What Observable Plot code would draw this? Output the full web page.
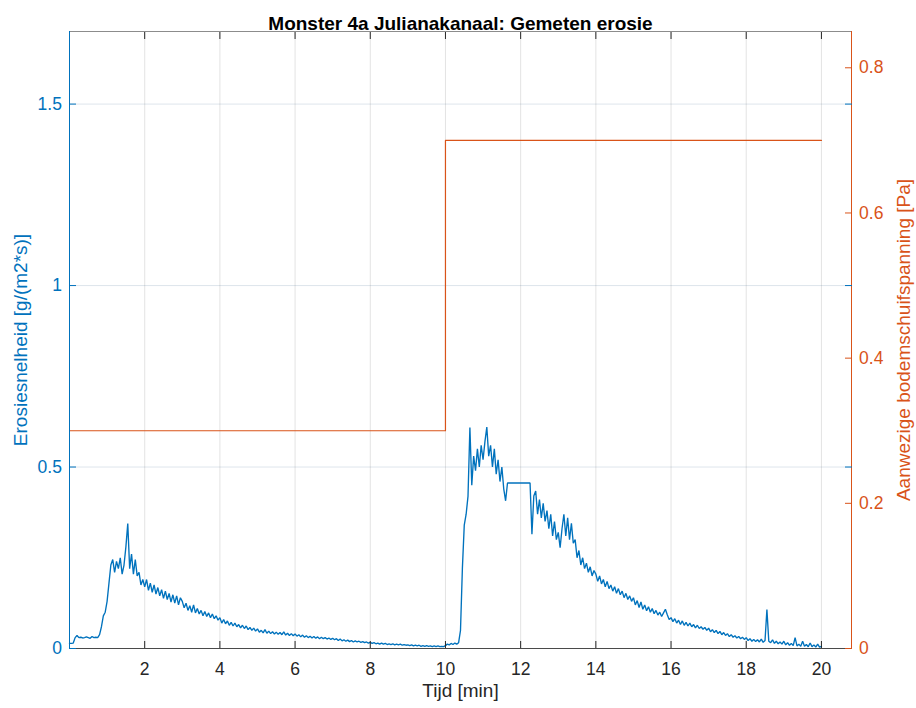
<!DOCTYPE html>
<html>
<head>
<meta charset="utf-8">
<script src="https://cdn.jsdelivr.net/npm/d3@7"></script>
<script src="https://cdn.jsdelivr.net/npm/@observablehq/plot@0.6"></script>
<style>
  body { margin: 0; background: #fff; }
</style>
</head>
<body>
<div id="chart"></div>
<script>
// ---------- Text ----------
const titel = "Monster 4a Julianakanaal: Gemeten erosie";
const xLabel = "Tijd [min]";
const yLabelLinks = "Erosiesnelheid [g/(m2*s)]";
const yLabelRechts = "Aanwezige bodemschuifspanning [Pa]";

// ---------- Axes ----------
const xTicks = [2, 4, 6, 8, 10, 12, 14, 16, 18, 20];
const yTicksLinks = [0, 0.5, 1, 1.5];
const yTicksRechts = [0, 0.2, 0.4, 0.6, 0.8];
const xBereik = [0, 20.8];
const yBereikLinks = [0, 1.7];
const yBereikRechts = [0, 0.85];

// ---------- Data ----------
// Erosiesnelheid [g/(m2*s)], gesampled elke 0.05 min vanaf t = 0 (één rij per minuut)
const meetInterval = 0.05;
const erosie = [
  0.014,0.014,0.015,0.03,0.036,0.03,0.031,0.029,0.03,0.032,0.03,0.028,0.033,0.03,0.031,0.03,0.038,0.06,0.09,0.1,
  0.13,0.18,0.23,0.245,0.21,0.24,0.22,0.25,0.205,0.23,0.28,0.344,0.22,0.26,0.205,0.245,0.2,0.21,0.175,0.19,
  0.17,0.19,0.16,0.18,0.155,0.175,0.15,0.168,0.145,0.162,0.138,0.158,0.135,0.152,0.128,0.148,0.125,0.145,0.12,0.14,
  0.13,0.112,0.125,0.105,0.118,0.1,0.12,0.098,0.11,0.095,0.105,0.09,0.102,0.088,0.098,0.085,0.095,0.082,0.09,0.078,
  0.085,0.07,0.08,0.068,0.076,0.064,0.072,0.062,0.07,0.06,0.066,0.057,0.064,0.055,0.062,0.052,0.058,0.05,0.056,0.048,
  0.054,0.045,0.05,0.043,0.052,0.042,0.048,0.041,0.046,0.04,0.045,0.039,0.044,0.038,0.046,0.037,0.042,0.036,0.041,0.035,
  0.04,0.034,0.038,0.032,0.037,0.031,0.035,0.03,0.034,0.029,0.033,0.028,0.032,0.027,0.031,0.027,0.03,0.026,0.029,0.025,
  0.028,0.024,0.027,0.022,0.026,0.021,0.024,0.02,0.023,0.019,0.022,0.018,0.021,0.018,0.02,0.017,0.019,0.016,0.018,0.015,
  0.017,0.014,0.016,0.013,0.015,0.012,0.015,0.012,0.014,0.011,0.013,0.011,0.013,0.01,0.012,0.01,0.012,0.009,0.011,0.009,
  0.01,0.008,0.01,0.007,0.009,0.007,0.009,0.006,0.008,0.006,0.008,0.006,0.007,0.005,0.007,0.005,0.007,0.005,0.006,0.005,
  0.008,0.012,0.01,0.014,0.011,0.015,0.012,0.016,0.05,0.22,0.34,0.37,0.42,0.609,0.45,0.53,0.49,0.55,0.5,0.56,
  0.52,0.57,0.61,0.53,0.56,0.5,0.55,0.48,0.52,0.46,0.5,0.44,0.407,0.456,0.456,0.456,0.456,0.456,0.456,0.456,
  0.456,0.456,0.456,0.456,0.456,0.456,0.315,0.42,0.434,0.37,0.41,0.36,0.4,0.35,0.38,0.33,0.37,0.31,0.35,0.3,
  0.32,0.278,0.33,0.37,0.31,0.36,0.3,0.345,0.29,0.3,0.25,0.27,0.23,0.25,0.22,0.235,0.21,0.225,0.2,0.215,
  0.205,0.185,0.2,0.178,0.19,0.17,0.185,0.165,0.175,0.158,0.17,0.152,0.165,0.148,0.158,0.14,0.152,0.135,0.145,0.13,
  0.14,0.12,0.132,0.113,0.128,0.108,0.12,0.104,0.115,0.1,0.11,0.096,0.105,0.092,0.1,0.088,0.098,0.108,0.093,0.08,
  0.085,0.074,0.082,0.07,0.078,0.066,0.076,0.064,0.072,0.062,0.07,0.06,0.066,0.057,0.064,0.055,0.06,0.053,0.058,0.05,
  0.056,0.046,0.052,0.044,0.05,0.041,0.047,0.038,0.044,0.036,0.041,0.033,0.038,0.031,0.035,0.029,0.033,0.027,0.031,0.025,
  0.03,0.022,0.027,0.02,0.025,0.019,0.024,0.018,0.026,0.017,0.022,0.107,0.02,0.016,0.024,0.014,0.02,0.013,0.018,0.012,
  0.02,0.01,0.016,0.009,0.014,0.008,0.03,0.007,0.012,0.006,0.02,0.006,0.011,0.005,0.015,0.005,0.01,0.004,0.012,0.004,
  0.006
];

// Aanwezige bodemschuifspanning [Pa] (trapfunctie)
const schuifTijd = [0, 10, 10, 20];
const schuifWaarde = [0.3, 0.3, 0.7, 0.7];

// ---------- Build tables ----------
const erosieData = erosie.map((v, i) => ({t: +(i * meetInterval).toFixed(2), v}));
const factor = yBereikLinks[1] / yBereikRechts[1];
const schuifData = schuifTijd.map((t, i) => ({t, v: schuifWaarde[i] * factor}));

const blauw = "#0072BD";
const oranje = "#D95319";
const tekst = "#262626";
const font = "'Liberation Sans', Arial, Helvetica, sans-serif";
const fmt = d => String(+d.toFixed(2));

const chart = Plot.plot({
  width: 916,
  height: 708,
  marginTop: 31,
  marginRight: 65,
  marginBottom: 60,
  marginLeft: 69,
  style: {fontFamily: font, background: "#fff", overflow: "visible"},
  x: {domain: xBereik, label: null},
  y: {domain: yBereikLinks, label: null},
  marks: [
    Plot.gridX(xTicks, {stroke: "#262626", strokeOpacity: 0.13}),
    Plot.gridY(yTicksLinks.filter(d => d > 0), {stroke: "#2f5f88", strokeOpacity: 0.16}),
    Plot.line(schuifData, {x: "t", y: "v", stroke: oranje, strokeWidth: 1.2}),
    Plot.line(erosieData, {x: "t", y: "v", stroke: blauw, strokeWidth: 1.35, strokeLinejoin: "miter"}),
    // box
    Plot.ruleY([yBereikLinks[1]], {stroke: "#8c8c8c"}),
    Plot.ruleY([yBereikLinks[0]], {stroke: "#4a4a4a"}),
    Plot.ruleX([xBereik[0]], {stroke: blauw}),
    Plot.ruleX([xBereik[1]], {stroke: oranje}),
    // inward ticks
    Plot.axisX({anchor: "bottom", ticks: xTicks, tickSize: -7, tickFormat: () => "", stroke: tekst, label: null}),
    Plot.axisX({anchor: "top", ticks: xTicks, tickSize: -7, tickFormat: () => "", stroke: tekst, label: null}),
    Plot.axisY({anchor: "left", ticks: yTicksLinks, tickSize: -7, tickFormat: () => "", stroke: blauw, label: null}),
    Plot.axisY({anchor: "right", ticks: yTicksLinks, tickSize: -7, tickFormat: () => "", stroke: blauw, label: null}),
    Plot.axisY({anchor: "right", ticks: yTicksRechts.map(d => d * factor), tickSize: -7, tickFormat: () => "", stroke: oranje, label: null}),
    // tick labels
    Plot.axisX({anchor: "bottom", ticks: xTicks, tickSize: 0, tickPadding: 14.5, fontSize: 17.5, color: tekst, label: null, tickFormat: fmt}),
    Plot.axisY({anchor: "left", ticks: yTicksLinks, tickSize: 0, tickPadding: 7.6, fontSize: 17.5, color: blauw, label: null, tickFormat: fmt}),
    Plot.axisY({anchor: "right", ticks: yTicksRechts.map(d => d * factor), tickSize: 0, tickPadding: 7.6, fontSize: 17.5, color: oranje, label: null,
      tickFormat: d => fmt(d / factor)}),
    // titles
    Plot.text([titel], {frameAnchor: "top", textAnchor: "middle", lineAnchor: "bottom", dy: -2, fontSize: 19, fontWeight: "bold", fill: "#000"}),
    Plot.text([xLabel], {frameAnchor: "bottom", textAnchor: "middle", lineAnchor: "top", dy: 35.3, fontSize: 19, fill: tekst}),
    Plot.text([yLabelLinks], {frameAnchor: "left", textAnchor: "middle", lineAnchor: "middle", rotate: -90, dx: -48.3, fontSize: 19, fill: blauw}),
    Plot.text([yLabelRechts], {frameAnchor: "right", textAnchor: "middle", lineAnchor: "middle", rotate: -90, dx: 52.5, fontSize: 19, fill: oranje})
  ]
});

document.getElementById("chart").appendChild(chart);
</script>
</body>
</html>
